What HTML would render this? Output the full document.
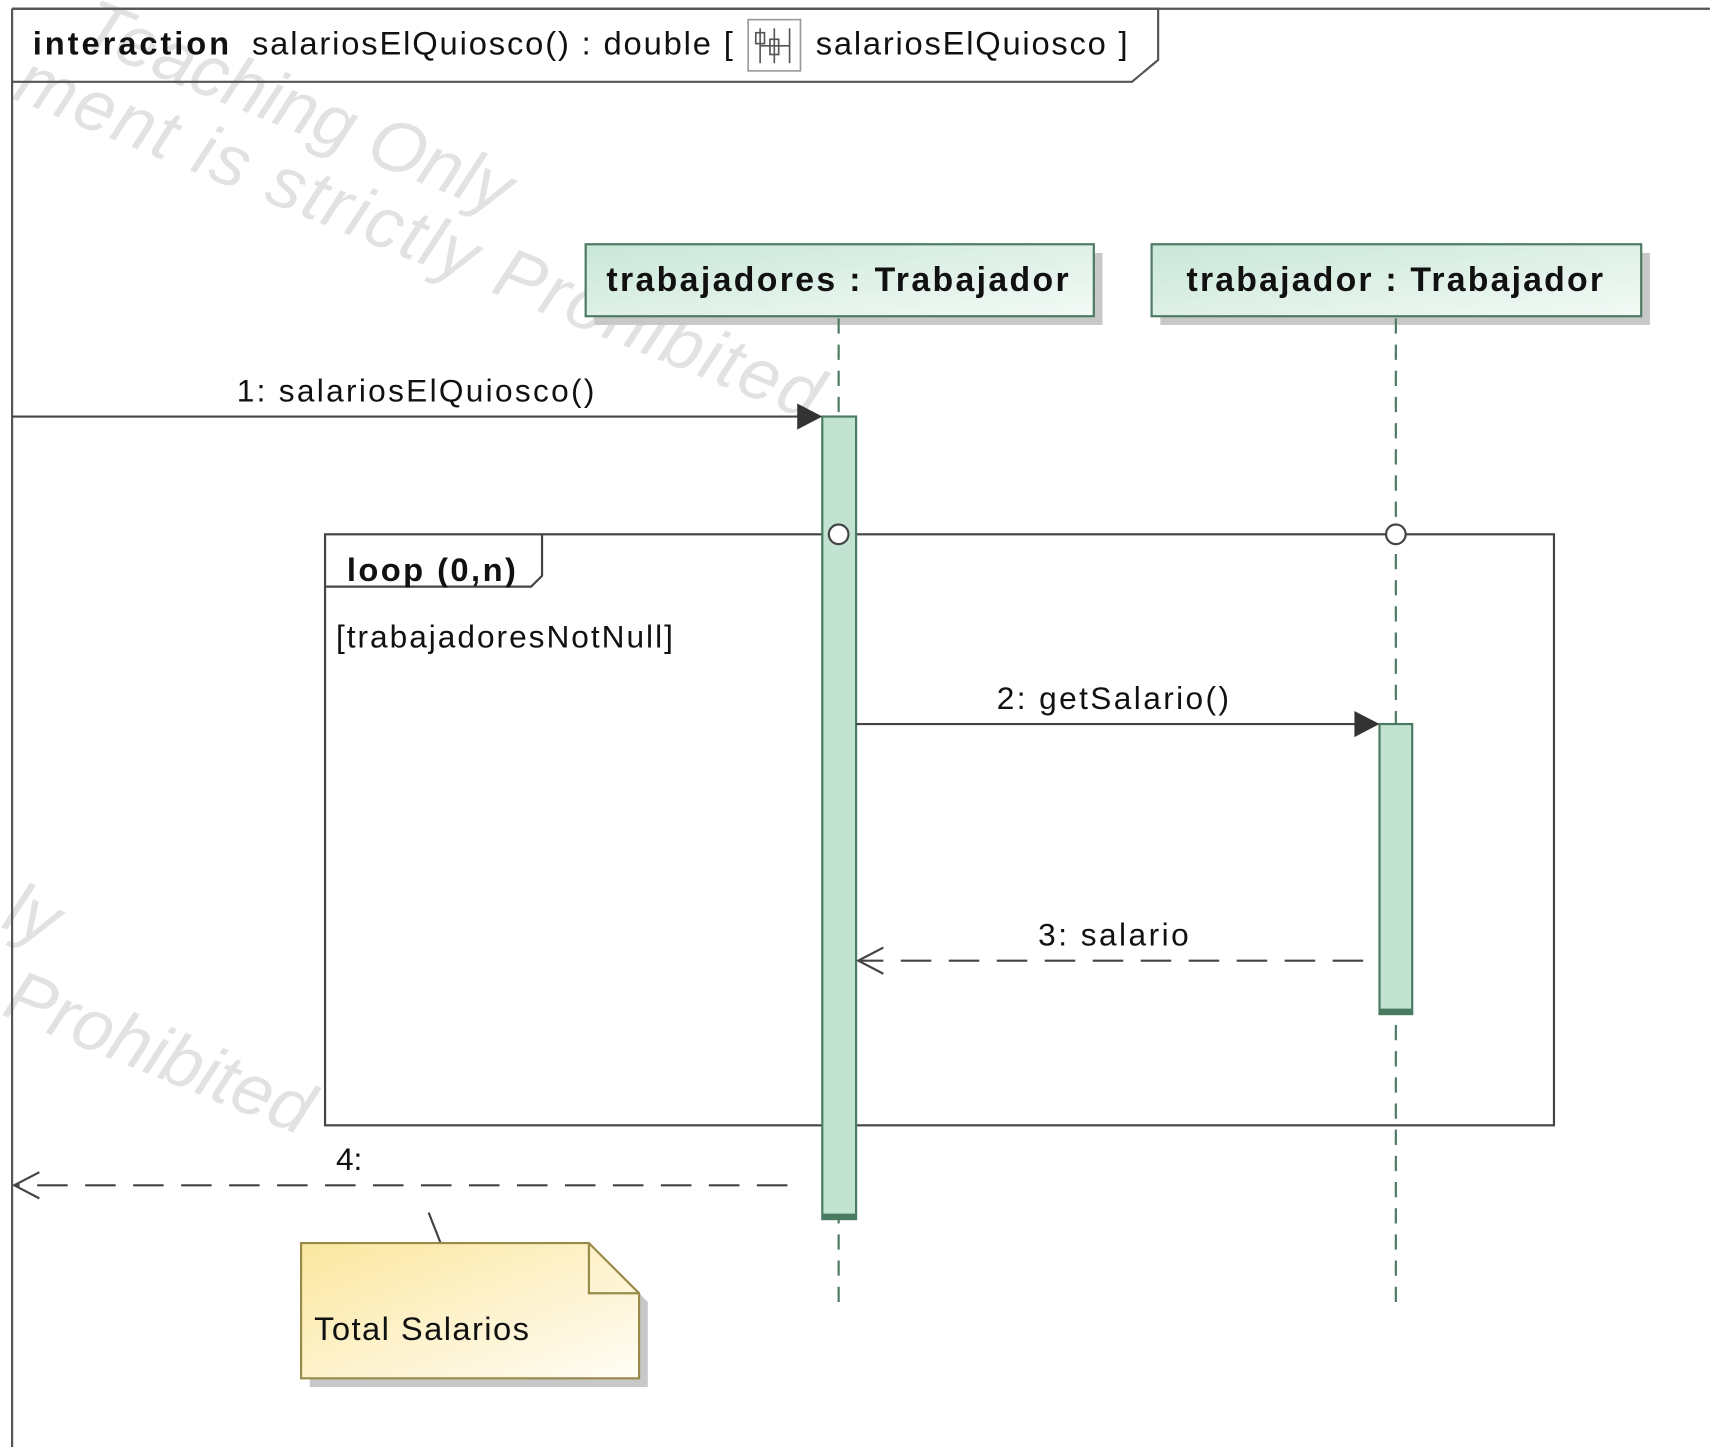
<!DOCTYPE html>
<html><head><meta charset="utf-8"><style>
html,body{margin:0;padding:0;background:#fff;}
svg{display:block;}
text{font-family:"Liberation Sans",Arial,sans-serif;fill:#111;}
</style></head><body>
<svg width="1710" height="1447" viewBox="0 0 1568 1327" xmlns="http://www.w3.org/2000/svg">
<defs>
<linearGradient id="lg" x1="0" y1="0" x2="1" y2="1"><stop offset="0" stop-color="#c9e7d8"/><stop offset="1" stop-color="#f3faf6"/></linearGradient>
<linearGradient id="ng" x1="0" y1="0" x2="1" y2="1"><stop offset="0" stop-color="#fbe79f"/><stop offset="1" stop-color="#fffdf6"/></linearGradient>
</defs>
<rect width="1568" height="1327" fill="#fff"/>
<g font-size="66" font-style="italic">
<text x="70" y="40" transform="rotate(22 70 40)" style="fill:#e2e2e2">Teaching Only</text>
<text x="10" y="90" transform="rotate(22 10 90)" style="fill:#e2e2e2" textLength="790">ment is strictly Prohibited</text>
<text x="0" y="930" transform="rotate(22 0 930)" style="fill:#e2e2e2">Prohibited</text>
<text x="0" y="850" transform="rotate(22 0 850)" style="fill:#e2e2e2">ly</text>
</g>
<line x1="11" y1="8" x2="11" y2="1327" stroke="#555" stroke-width="2"/>
<line x1="11" y1="8" x2="1568" y2="8" stroke="#555" stroke-width="2"/>
<path d="M11 8 H1062 V55 L1038 75 H11" fill="none" stroke="#555" stroke-width="2"/>
<text x="30" y="50" font-size="30" font-weight="bold" textLength="180">interaction</text>
<text x="231" y="50" font-size="30" textLength="441">salariosElQuiosco() : double [</text>
<rect x="686" y="18" width="48" height="47" fill="#fff" stroke="#999" stroke-width="1.5"/>
<g stroke="#555" stroke-width="1.5" fill="none"><line x1="697" y1="26" x2="697" y2="58"/><line x1="710" y1="26" x2="710" y2="58"/><line x1="724" y1="26" x2="724" y2="58"/><rect x="693" y="30" width="8" height="10"/><rect x="706" y="36" width="8" height="14"/><line x1="697" y1="42" x2="724" y2="42"/></g>
<text x="748" y="50" font-size="30" textLength="286">salariosElQuiosco ]</text>
<rect x="545" y="232" width="466" height="66" fill="#c8c8c8"/>
<rect x="537" y="224" width="466" height="66" fill="url(#lg)" stroke="#4d7a63" stroke-width="2"/>
<text x="556" y="267" font-size="31" font-weight="bold" textLength="424">trabajadores : Trabajador</text>
<rect x="1064" y="232" width="449" height="66" fill="#c8c8c8"/>
<rect x="1056" y="224" width="449" height="66" fill="url(#lg)" stroke="#4d7a63" stroke-width="2"/>
<text x="1088" y="267" font-size="31" font-weight="bold" textLength="382">trabajador : Trabajador</text>
<g stroke="#4d7a63" stroke-width="2" stroke-dasharray="14,10">
<line x1="769" y1="292" x2="769" y2="1195"/><line x1="1280" y1="292" x2="1280" y2="1195"/></g>
<rect x="298" y="490" width="1127" height="542" fill="none" stroke="#444" stroke-width="2"/>
<path d="M298 538 H487 L497 528 V490" fill="none" stroke="#444" stroke-width="2"/>
<text x="318" y="533" font-size="30" font-weight="bold" textLength="155">loop (0,n)</text>
<text x="308" y="594" font-size="29" textLength="309">[trabajadoresNotNull]</text>
<rect x="754" y="382" width="31" height="736" fill="#c2e3d2" stroke="#4a7a60" stroke-width="2"/>
<line x1="754" y1="1115" x2="785" y2="1115" stroke="#4a7a60" stroke-width="4"/>
<rect x="1265" y="664" width="30" height="266" fill="#c2e3d2" stroke="#4a7a60" stroke-width="2"/>
<line x1="1265" y1="927" x2="1295" y2="927" stroke="#4a7a60" stroke-width="4"/>
<circle cx="769" cy="490" r="9" fill="#fff" stroke="#444" stroke-width="2"/>
<circle cx="1280" cy="490" r="9" fill="#fff" stroke="#444" stroke-width="2"/>
<line x1="11" y1="382" x2="740" y2="382" stroke="#444" stroke-width="2"/>
<polygon points="754,382 731,370 731,394" fill="#333"/>
<text x="217" y="368" font-size="29" textLength="328">1: salariosElQuiosco()</text>
<line x1="785" y1="664" x2="1250" y2="664" stroke="#444" stroke-width="2"/>
<polygon points="1265,664 1242,652 1242,676" fill="#333"/>
<text x="914" y="650" font-size="29" textLength="213">2: getSalario()</text>
<line x1="1250" y1="881" x2="787" y2="881" stroke="#444" stroke-width="2" stroke-dasharray="28,16"/>
<polyline points="810,869 787,881 810,893" fill="none" stroke="#444" stroke-width="2"/>
<text x="952" y="867" font-size="29" textLength="138">3: salario</text>
<line x1="722" y1="1087" x2="13" y2="1087" stroke="#444" stroke-width="2" stroke-dasharray="28,16"/>
<polyline points="36,1075 13,1087 36,1099" fill="none" stroke="#444" stroke-width="2"/>
<text x="308" y="1073" font-size="29">4:</text>
<line x1="393" y1="1112" x2="404" y2="1140" stroke="#444" stroke-width="2"/>
<path d="M284 1148 H548 L594 1194 V1272 H284 Z" fill="#c8c8c8"/>
<path d="M276 1140 H540 L586 1186 V1264 H276 Z" fill="url(#ng)" stroke="#9a8a4a" stroke-width="2"/>
<path d="M540 1140 V1186 H586" fill="none" stroke="#9a8a4a" stroke-width="2"/>
<text x="288" y="1229" font-size="30" textLength="197">Total Salarios</text>
</svg>
</body></html>
